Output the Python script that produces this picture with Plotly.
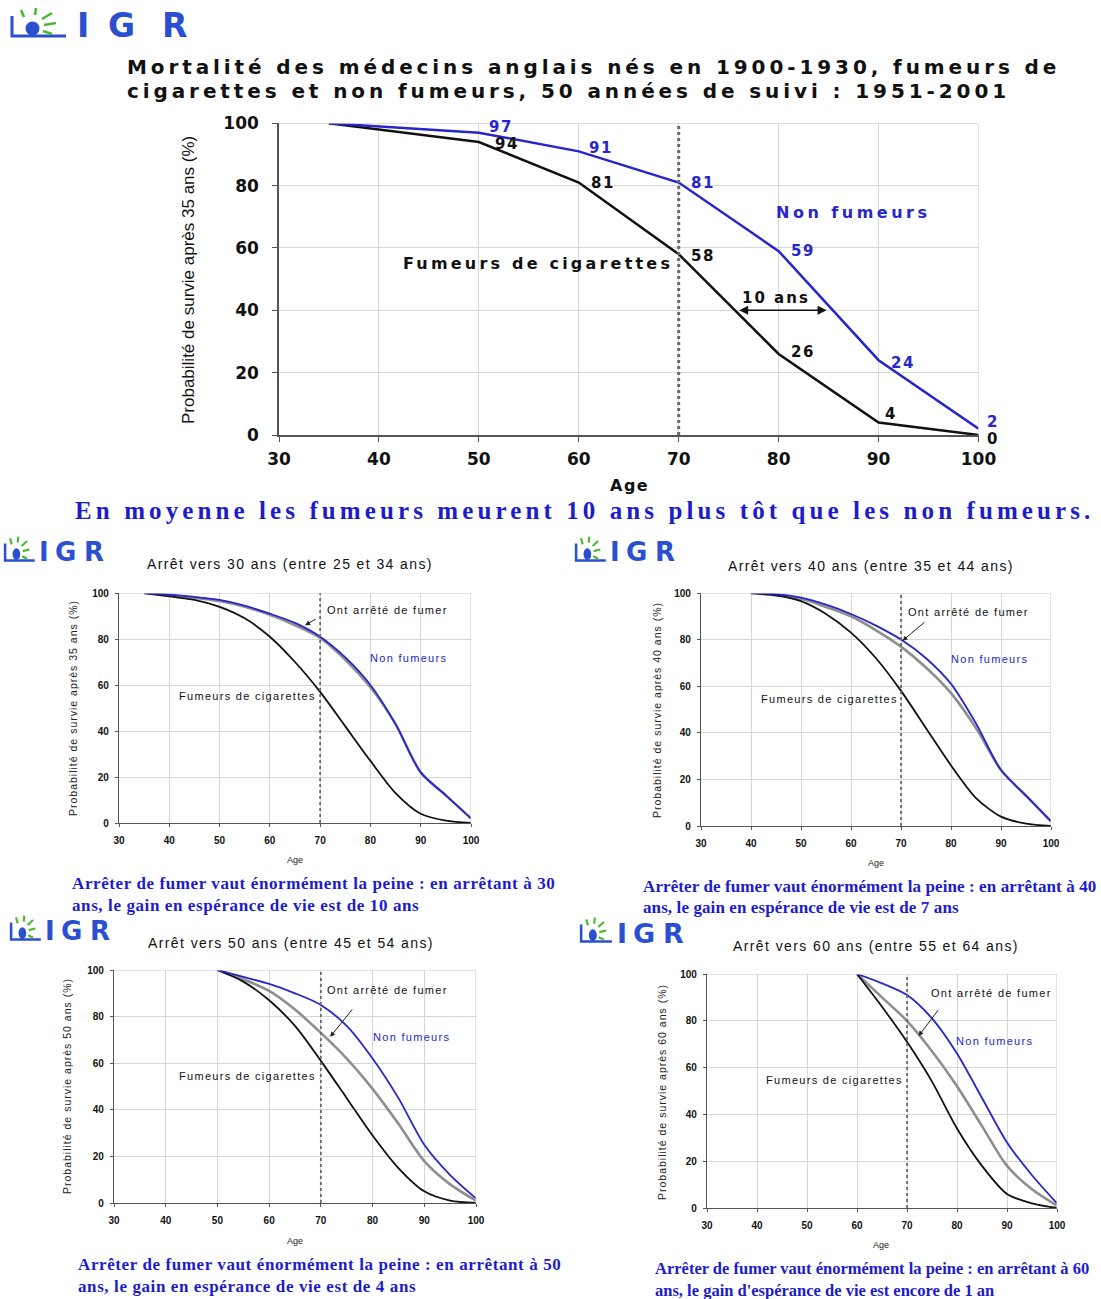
import plotly.graph_objects as go

W, H = 1101, 1299

# ---------------- data ----------------
main_age = [35, 50, 60, 70, 80, 90, 100]
main_non = [100, 97, 91, 81, 59, 24, 2]
main_smk = [100, 94, 81, 58, 26, 4, 0]

c30_age = [35, 40, 45, 50, 55, 60, 65, 70, 75, 80, 85, 90, 95, 100]
c30_smk = [100, 98.5, 97, 94, 89, 81, 70, 57, 42, 27, 13, 4, 1, 0]
c30_non = [100, 99.3, 98.3, 97, 94.5, 91, 87, 81, 72, 60, 43, 22, 12, 2]
c30_stop = [100, 99, 98, 96.5, 94, 90.5, 86, 80.5, 71, 59, 43, 22, 12, 2]

c40_age = [40, 45, 50, 55, 60, 65, 70, 75, 80, 85, 90, 95, 100]
c40_smk = [100, 99, 96.5, 91, 83, 72, 58, 42, 26, 12, 4, 1, 0]
c40_non = [100, 99.5, 98, 95, 91, 86, 80, 72, 61, 44, 24, 13, 2]
c40_stop = [100, 99, 97.5, 94, 90, 84, 77, 68, 57, 42, 24, 13, 2]

c50_age = [50, 55, 60, 65, 70, 75, 80, 85, 90, 95, 100]
c50_smk = [100, 95, 87, 76, 61, 45, 29, 15, 5, 1, 0]
c50_non = [100, 97, 94, 90, 85, 76, 62, 45, 25, 12, 2]
c50_stop = [100, 96, 91, 83, 73, 62, 49, 34, 18, 8, 1]

c60_age = [60, 65, 70, 75, 80, 85, 90, 95, 100]
c60_smk = [100, 86, 71, 54, 34, 18, 6, 2, 0]
c60_non = [100, 96, 91, 81, 66, 47, 28, 14, 2]
c60_stop = [100, 90, 80, 67, 52, 35, 18, 8, 1]

x_ticks = [30, 40, 50, 60, 70, 80, 90, 100]
y_ticks = [0, 20, 40, 60, 80, 100]

BLUE = "#2626cc"
BLACK = "#111111"
GRAY = "#8e8e8e"
TXTBLUE = "#1c1ccc"

fig = go.Figure()


def px(x):
    return x / W


def py(y):
    return 1 - y / H


def ls(text, sp):
    return f'<span style="letter-spacing:{sp}px">{text}</span>'


# ---------------- traces ----------------
fig.add_trace(go.Scatter(x=main_age, y=main_smk, mode="lines", line=dict(color=BLACK, width=2.5),
                         xaxis="x", yaxis="y", showlegend=False, hoverinfo="skip"))
fig.add_trace(go.Scatter(x=main_age, y=main_non, mode="lines", line=dict(color=BLUE, width=2.5),
                         xaxis="x", yaxis="y", showlegend=False, hoverinfo="skip"))

small = [
    ("2", c30_age, c30_smk, c30_non, c30_stop),
    ("3", c40_age, c40_smk, c40_non, c40_stop),
    ("4", c50_age, c50_smk, c50_non, c50_stop),
    ("5", c60_age, c60_smk, c60_non, c60_stop),
]
for k, a, s, n, st in small:
    fig.add_trace(go.Scatter(x=a, y=st, mode="lines", line=dict(color=GRAY, width=2.6, shape="spline", smoothing=0.8),
                             xaxis="x" + k, yaxis="y" + k, showlegend=False, hoverinfo="skip"))
    fig.add_trace(go.Scatter(x=a, y=s, mode="lines", line=dict(color=BLACK, width=1.8, shape="spline", smoothing=0.8),
                             xaxis="x" + k, yaxis="y" + k, showlegend=False, hoverinfo="skip"))
    fig.add_trace(go.Scatter(x=a, y=n, mode="lines", line=dict(color=BLUE, width=1.8, shape="spline", smoothing=0.8),
                             xaxis="x" + k, yaxis="y" + k, showlegend=False, hoverinfo="skip"))


# ---------------- axes ----------------
def axis_pair(xdom, ydom, big):
    fs = 17 if big else 10
    fam = "DejaVu Sans" if big else "Liberation Sans"
    common = dict(showgrid=True, gridcolor="#d6d6d6", gridwidth=1, zeroline=False,
                  showline=True, linecolor="#555555", linewidth=1.5 if big else 1.2,
                  ticks="outside", ticklen=5 if big else 3, tickcolor="#555555",
                  tickfont=dict(family=fam, size=fs, color="#111111", weight="bold"),
                  fixedrange=True, automargin=False)
    xa = dict(domain=xdom, range=[30, 100], tickvals=x_ticks, ticklabelstandoff=3 if big else 5, **common)
    ya = dict(domain=ydom, range=[0, 100], tickvals=y_ticks, ticklabelstandoff=10 if big else 4, **common)
    return xa, ya


layout_axes = {}
xa, ya = axis_pair([px(279), px(978.5)], [py(435), py(123.3)], True)
xa["anchor"] = "y"
ya["anchor"] = "x"
layout_axes["xaxis"] = xa
layout_axes["yaxis"] = ya

boxes = {
    "2": (119, 471, 593, 823),
    "3": (701, 1051, 593, 826),
    "4": (114, 476, 970, 1203),
    "5": (707, 1057, 974, 1208),
}
for k, (x0, x1, y0, y1) in boxes.items():
    xa, ya = axis_pair([px(x0), px(x1)], [py(y1), py(y0)], False)
    xa["anchor"] = "y" + k
    ya["anchor"] = "x" + k
    layout_axes["xaxis" + k] = xa
    layout_axes["yaxis" + k] = ya

shapes = []
ann = []

for k in ["", "2", "3", "4", "5"]:
    shapes.append(dict(type="line", xref="x" + k, yref="y" + k, x0=70, x1=70, y0=0, y1=100,
                       line=dict(color="#6a6a6a", width=3 if k == "" else 1.8, dash="dot"), layer="above"))
    shapes.append(dict(type="line", xref="x" + k, yref="y" + k, x0=30, x1=100, y0=100, y1=100,
                       line=dict(color="#c8c8c8", width=1)))
    shapes.append(dict(type="line", xref="x" + k, yref="y" + k, x0=100, x1=100, y0=0, y1=100,
                       line=dict(color="#c8c8c8", width=1)))


def ptext(x, y, text, font, xanchor="center", angle=0):
    ann.append(dict(x=px(x), y=py(y), xref="paper", yref="paper", showarrow=False, text=text,
                    xanchor=xanchor, yanchor="middle", textangle=angle, font=font))


# ---------------- main chart text ----------------
TFONT = dict(family="DejaVu Sans", size=20, color="#111111", weight="bold")
ptext(125, 67, ls("Mortalité des médecins anglais nés en 1900-1930, fumeurs de", 3.9), TFONT, "left")
ptext(125, 91, ls("cigarettes et non fumeurs, 50 années de suivi : 1951-2001", 3.9), TFONT, "left")
ptext(188, 280, "Probabilité de survie après 35 ans (%)",
      dict(family="Liberation Sans", size=17, color="#111111"), angle=-90)
ptext(629, 485, ls("Age", 1.5), dict(family="DejaVu Sans", size=16, color="#111111", weight="bold"))
ptext(73, 510, ls("En moyenne les fumeurs meurent 10 ans plus tôt que les non fumeurs.", 4.1),
      dict(family="Liberation Serif", size=25, color=TXTBLUE, weight="bold"), "left")

# value labels: offsets (px) per point, text from data
non_off = [None, (22, 6), (22, 3), (24, 0), (24, 0), (24, -3), (14, 7)]
smk_off = [None, (28, -2), (24, 0), (24, -2), (24, 2), (12, 9), (14, -4)]
for a, v, o in zip(main_age, main_non, non_off):
    if o:
        ann.append(dict(x=a, y=v, xref="x", yref="y", showarrow=False, text=ls(str(v), 1.5),
                        xshift=o[0], yshift=o[1],
                        font=dict(family="DejaVu Sans", size=15, color=BLUE, weight="bold")))
for a, v, o in zip(main_age, main_smk, smk_off):
    if o:
        ann.append(dict(x=a, y=v, xref="x", yref="y", showarrow=False, text=ls(str(v), 1.5),
                        xshift=o[0], yshift=o[1],
                        font=dict(family="DejaVu Sans", size=15, color=BLACK, weight="bold")))

ann.append(dict(x=87.5, y=71.5, xref="x", yref="y", showarrow=False, text=ls("Non fumeurs", 3.5),
                font=dict(family="DejaVu Sans", size=16, color=BLUE, weight="bold")))
ann.append(dict(x=69.6, y=55, xref="x", yref="y", showarrow=False, text=ls("Fumeurs de cigarettes", 3.2),
                xanchor="right", font=dict(family="DejaVu Sans", size=16, color=BLACK, weight="bold")))
ann.append(dict(x=79.7, y=44, xref="x", yref="y", showarrow=False, text=ls("10 ans", 2),
                font=dict(family="DejaVu Sans", size=15, color=BLACK, weight="bold")))
ann.append(dict(x=84.8, y=40, ax=75.9, ay=40, xref="x", yref="y", axref="x", ayref="y", text="",
                showarrow=True, arrowhead=2, arrowside="end+start", arrowsize=1.2, arrowwidth=1.5, arrowcolor=BLACK))

# ---------------- small chart texts ----------------
small_txt = [
    ("2", "Arrêt vers 30 ans (entre 25 et 34 ans)", (290, 564), "Probabilité de survie après 35 ans (%)", (73, 708),
     (295, 860), ["Arrêter de fumer vaut énormément la peine : en arrêtant à 30",
                  "ans, le gain en espérance de vie est de 10 ans"], (70, 883), (17, 0.6),
     (71.0, 92.6), (69.4, 89, 67, 86), (87.5, 71.7), (69.6, 55.2)),
    ("3", "Arrêt vers 40 ans (entre 35 et 44 ans)", (871, 566), "Probabilité de survie après 40 ans (%)", (657, 710),
     (876, 863), ["Arrêter de fumer vaut énormément la peine : en arrêtant à 40",
                  "ans, le gain en espérance de vie est de 7 ans"], (641, 886), (17, 0.1),
     (71.0, 91.8), (75, 88, 70.3, 79.5), (87.6, 71.7), (69.8, 54.5)),
    ("4", "Arrêt vers 50 ans (entre 45 et 54 ans)", (291, 943), "Probabilité de survie après 50 ans (%)", (67, 1086),
     (295, 1241), ["Arrêter de fumer vaut énormément la peine : en arrêtant à 50",
                   "ans, le gain en espérance de vie est de 4 ans"], (76, 1264), (17, 0.6),
     (70.8, 91.4), (76.3, 83.7, 71.8, 71.3), (87.6, 71.2), (69.4, 54.5)),
    ("5", "Arrêt vers 60 ans (entre 55 et 64 ans)", (876, 946), "Probabilité de survie après 60 ans (%)", (662, 1092),
     (881, 1245), ["Arrêter de fumer vaut énormément la peine : en arrêtant à 60",
                   "ans, le gain d'espérance de vie est encore de 1 an"], (653, 1268), (16.5, 0),
     (74.4, 91.9), (76.5, 85.3, 72.3, 73.5), (87.4, 71.4), (69.6, 54.7)),
]
SF = dict(family="Liberation Sans", size=11, color="#111111")
for (k, title, tpos, ylab, ypos, apos, caps, cpos, cfont, ont, arr, nonp, fum) in small_txt:
    ptext(tpos[0], tpos[1], ls(title, 1.4), dict(family="Liberation Sans", size=14, color="#111111"))
    ptext(ypos[0], ypos[1], ls(ylab, 1.0), dict(family="Liberation Sans", size=10.5, color="#222222"), angle=-90)
    ptext(apos[0], apos[1], "Age", dict(family="Liberation Sans", size=9, color="#222222"))
    for i, line in enumerate(caps):
        ptext(cpos[0], cpos[1] + 22 * i, ls(line, cfont[1]),
              dict(family="Liberation Serif", size=cfont[0], color=TXTBLUE, weight="bold"), "left")
    ann.append(dict(x=ont[0], y=ont[1], xref="x" + k, yref="y" + k, showarrow=False, xanchor="left",
                    text=ls("Ont arrêté de fumer", 1.3), font=SF))
    ann.append(dict(x=arr[2], y=arr[3], ax=arr[0], ay=arr[1], xref="x" + k, yref="y" + k,
                    axref="x" + k, ayref="y" + k, text="", showarrow=True, arrowhead=2, arrowsize=1,
                    arrowwidth=1, arrowcolor="#222222"))
    ann.append(dict(x=nonp[0], y=nonp[1], xref="x" + k, yref="y" + k, showarrow=False,
                    text=ls("Non fumeurs", 1.3), font=dict(family="Liberation Sans", size=11, color=BLUE)))
    ann.append(dict(x=fum[0], y=fum[1], xref="x" + k, yref="y" + k, showarrow=False, xanchor="right",
                    text=ls("Fumeurs de cigarettes", 1.3), font=SF))


# ---------------- logos ----------------
def add_logo(left, cy, sx, sy, fsize):
    def X(v):
        return px(left + v * sx)

    def Y(v):
        return py(cy + v * sy)

    lb = "#2a4fd0"
    gr = "#4cb832"
    shapes.append(dict(type="path", xref="paper", yref="paper",
                       path=f"M {X(2)},{Y(-10)} L {X(2)},{Y(10)} L {X(56)},{Y(10)}",
                       line=dict(color=lb, width=3 * sy)))
    shapes.append(dict(type="circle", xref="paper", yref="paper", x0=X(15.5), x1=X(29.5), y0=Y(-4.5), y1=Y(9.5),
                       fillcolor=lb, line=dict(width=0)))
    rays = [((14, -9), (11, -16)), ((25, -11), (26, -18)), ((32, -7), (42, -13)),
            ((34, -1), (46, -3)), ((33, 5), (42, 8))]
    for (a, b) in rays:
        shapes.append(dict(type="line", xref="paper", yref="paper", x0=X(a[0]), y0=Y(a[1]), x1=X(b[0]), y1=Y(b[1]),
                           line=dict(color=gr, width=2.5 * sy)))
    for letter, dx in [("I", 73), ("G", 111.5), ("R", 164.5)]:
        ann.append(dict(x=X(dx), y=Y(0), xref="paper", yref="paper", showarrow=False, text=letter,
                        xanchor="center", yanchor="middle",
                        font=dict(family="DejaVu Sans", size=fsize, color=lb, weight="bold")))


add_logo(10, 26, 1.0, 1.0, 33)
add_logo(4, 552, 0.55, 0.85, 26)
add_logo(575, 552, 0.55, 0.85, 26)
add_logo(10, 931, 0.55, 0.85, 26)
add_logo(580, 933, 0.57, 0.85, 27)

fig.update_layout(width=W, height=H, margin=dict(l=0, r=0, t=0, b=0, autoexpand=False),
                  paper_bgcolor="white", plot_bgcolor="white",
                  shapes=shapes, annotations=ann, showlegend=False, **layout_axes)

fig.write_html("out.html", post_script="document.body.style.margin='0';",
               config=dict(displayModeBar=False))
